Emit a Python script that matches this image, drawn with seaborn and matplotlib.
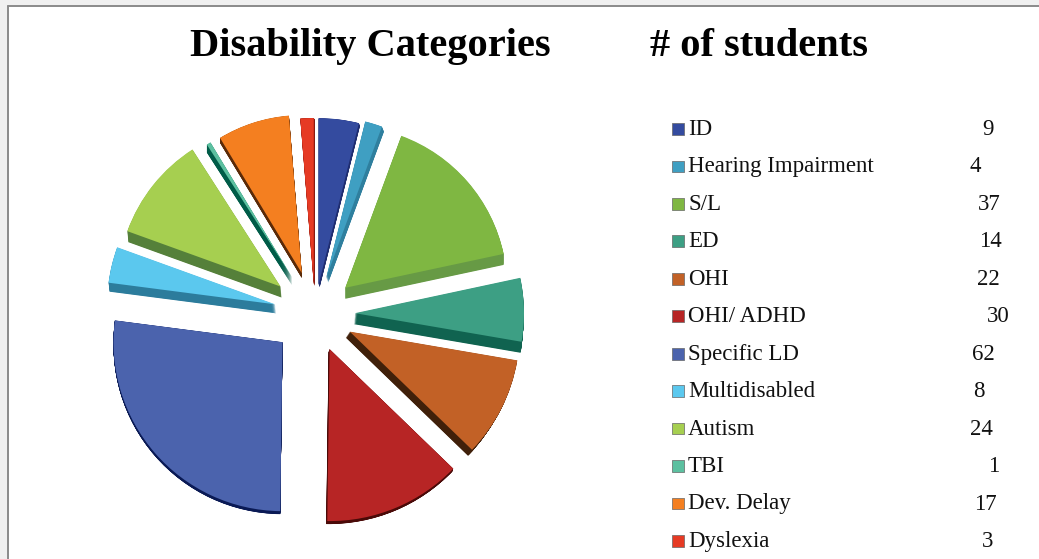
import numpy as np
import pandas as pd
import seaborn as sns
import matplotlib
matplotlib.use("Agg")
import matplotlib.pyplot as plt

categories = ["ID", "Hearing Impairment", "S/L", "ED", "OHI", "OHI/ ADHD",
              "Specific LD", "Multidisabled", "Autism", "TBI", "Dev. Delay", "Dyslexia"]
students = [9, 4, 37, 14, 22, 30, 62, 8, 24, 1, 17, 3]

colors = ["#344b9f", "#3f9fc2", "#7fb742", "#3d9f84", "#c26126", "#b72525",
          "#4b63ad", "#5bc8ee", "#a6cf50", "#5cc0a0", "#f47f20", "#e63a24"]
side_colors = ["#1f2d70", "#2f7f9e", "#679a45", "#106350", "#40200a", "#4a0a08",
               "#0a1a55", "#2c7c9c", "#55803a", "#005c48", "#5a2a08", "#8a1a10"]
explode_px = [30, 38, 40, 40, 39, 38, 43, 41, 44, 43, 43, 30]
slice_radius = [166, 161, 162, 169, 170, 172, 169, 168, 163, 158, 158, 166]
depth_x = [1, 2, 0, -1, -4, -1, 0, 1, 1, 0, 0, 1]
depth_y = [3, 5, 11, 11, 6, 3, 3, 9, 11, 8, 5, 2]
value_x = [988, 975, 989, 990, 988, 998, 983, 979, 981, 994, 985, 988]

W, H = 1039, 559
sns.set_theme(style="white")
plt.rcParams["font.family"] = ["Liberation Serif", "DejaVu Serif"]

fig = plt.figure(figsize=(W / 100, H / 100), dpi=100, facecolor="white")
ax = fig.add_axes([0, 0, 1, 1])

pie_kw = dict(explode=explode_px, radius=170, center=(315, H - 314), startangle=90,
              counterclock=False, wedgeprops=dict(linewidth=0))

# extruded sides of the slices, swept from the top face downwards
for t in np.linspace(1, 0.05, 20):
    wedges, _ = ax.pie(students, colors=side_colors, **pie_kw)
    for w, r, dx, dy in zip(wedges, slice_radius, depth_x, depth_y):
        x0, y0 = w.center
        w.set_center((x0 + dx * t, y0 - dy * t))
        w.set_radius(r)

# top faces
wedges, _ = ax.pie(students, colors=colors, **pie_kw)
for w, r in zip(wedges, slice_radius):
    w.set_radius(r)

ax.set_aspect("auto")
ax.set_xlim(0, W)
ax.set_ylim(0, H)
ax.axis("off")

# page edge of the original screenshot
ax.axhspan(H - 5, H, color="#f0f0f0", lw=0, zorder=5)
ax.axvspan(0, 7, color="#f0f0f0", lw=0, zorder=5)
ax.plot([7.5, 7.5], [0, H - 5.5], color="#8a8a8a", lw=1.4, zorder=6)
ax.plot([7.5, W], [H - 5.5, H - 5.5], color="#8a8a8a", lw=1.4, zorder=6)

# headings
ax.text(370.5, H - 56, "Disability Categories", ha="center", va="baseline",
        fontsize=29.2, fontweight="bold", color="black")
ax.text(759, H - 56, "# of students", ha="center", va="baseline",
        fontsize=29.2, fontweight="bold", color="black")

# key
rows = H - (129 + 37.45 * np.arange(len(categories)))
key = pd.DataFrame({"category": categories, "x": 678, "y": rows})
sns.scatterplot(data=key, x="x", y="y", hue="category", palette=colors, marker="s",
                s=72, linewidth=0.5, edgecolor="#666666", legend=False, ax=ax, zorder=4, clip_on=False)
ax.set_xlim(0, W)
ax.set_ylim(0, H)
ax.axis("off")
for name, n, xv, y in zip(categories, students, value_x, rows):
    ax.text(688, y - 6, name, ha="left", va="baseline", fontsize=16.5, color="#111111")
    ax.text(xv, y - 6, str(n), ha="center", va="baseline", fontsize=16.5, color="#111111")

fig.savefig("out.png", dpi=100, facecolor="white")
